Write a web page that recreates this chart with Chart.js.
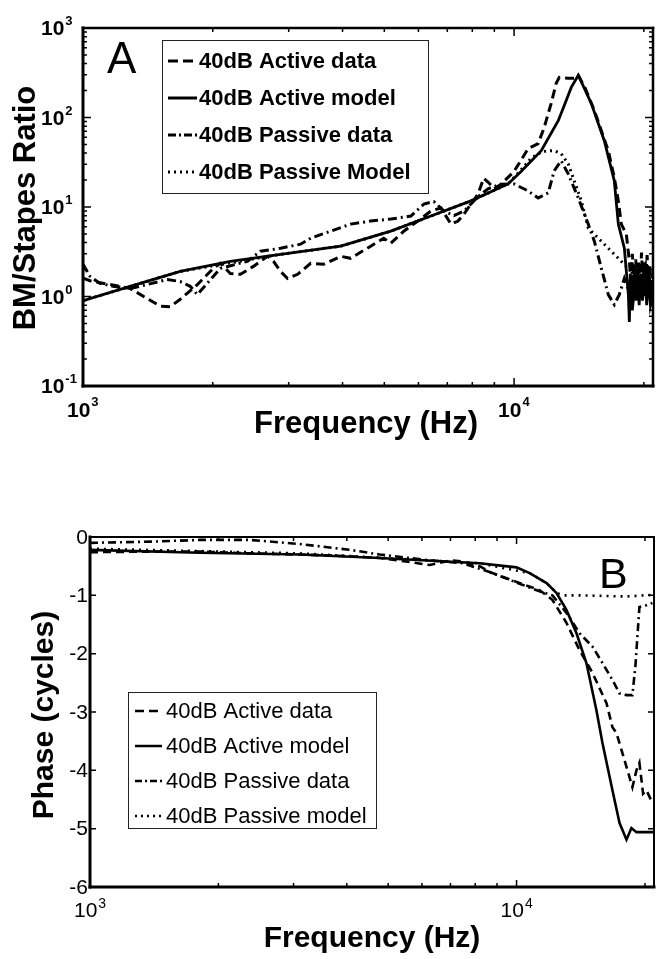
<!DOCTYPE html>
<html>
<head>
<meta charset="utf-8">
<script src="https://cdn.jsdelivr.net/npm/chart.js@4.4.1/dist/chart.umd.min.js"></script>
<style>
  html, body { margin: 0; padding: 0; background: #fff; }
  canvas { display: block; }
</style>
</head>
<body>
<canvas id="panelA" width="658" height="470"></canvas>
<canvas id="panelB" width="658" height="489"></canvas>
<script>
// ---- Panel A: BM/Stapes magnitude ratio ----
const aActiveDataFreq = [1000,1038,1155,1286,1409,1510,1594,1681,1842,2006,2083,2197,2318,2485,2679,2766,2872,2982,3146,3373,3615,3961,4178,4649,4985,5176,5549,5982,6412,6766,7138,7411,7652,7943,8248,8500,8700,9000,9328,10000,10780,11370,11740,12190,12520,12730,13350,13790,14090,14600,15350,16540,17080,17450,17730,18210,18510,18650,18800,19000,19150,19320,19450,19600,19750,19900,20050,20200,20350,20500,20650,20800,21000];
const aActiveData     = [1.6,1.5,1.36,1.23,0.95,0.78,0.77,0.93,1.36,2.06,2.35,1.81,1.77,2.17,2.81,2.47,1.91,1.59,1.77,2.35,2.29,2.81,2.67,3.65,4.48,3.94,5.37,6.96,9.02,9.75,6.44,6.96,8.35,10.8,14.0,21,19,16,18,25,44.9,51,77,144,241,281,274,274,297,215,120,42.6,21.2,11.7,6.44,4.98,2.47,1.5,3.0,1.4,2.6,1.1,2.5,1.2,3.1,1.4,2.4,1.5,2.9,1.3,2.2,1.3,1.8];

const aActiveModelFreq = [1000,1286,1681,2197,2872,3961,5176,6412,7943,9683,10380,11560,12660,13100,13570,14090,15100,16190,17080,17450,18020,18410,18510,18600,18700,18800,18900,19000,19100,19200,19320,19400,19500,19620,19740,19850,19950,20060,20170,20300,20400,20500,20610,20720,20830,21000];
const aActiveModel     = [0.9,1.3,1.91,2.47,2.96,3.65,5.37,7.92,11.7,18.1,25,42.6,92,140,217,297,144,55,19.6,6.44,3.46,1.05,0.52,1.8,1.5,0.7,0.9,2.1,2.0,0.9,1.2,2.2,0.8,1.3,1.8,0.9,1.1,2.0,2.2,0.8,1.0,1.9,1.6,0.8,0.9,1.4];

const aPassiveDataFreq = [1000,1038,1095,1174,1286,1409,1568,1681,1773,1842,2083,2406,2580,2872,3196,3373,3752,4178,4649,5176,5761,6178,6516,6876,7254,7652,8248,8700,9328,10000,10780,11370,12000,12390,12860,13350,14090,14860,15350,15940,16540,17080,17540,18020,18400,18800,19200,19600,20000,20400,20800,21000];
const aPassiveData     = [2.3,1.68,1.4,1.3,1.23,1.36,1.55,1.47,1.3,1.05,2.06,2.47,3.2,3.46,3.84,4.48,5.37,6.44,6.96,7.33,7.92,10.8,11.5,9.0,8.0,9.0,13,16,18,18.1,15.1,12.6,14.4,25.4,32.9,23.5,12.6,6.44,4.15,2.06,1.05,0.81,1.05,1.59,1.2,1.9,1.1,1.7,1.0,1.6,1.2,1.5];

const aPassiveModelFreq = [1000,1681,2872,3961,5176,6412,7943,9683,10380,10950,11560,12000,12390,12860,13350,14320,14860,15680,16810,17730,18510,19500,21000];
const aPassiveModel     = [0.9,1.91,2.96,3.65,5.37,7.92,11.7,18.1,26,35,41,42.6,42.6,39.4,30.4,11.7,5.81,4.48,3.2,2.47,2.0,1.6,1.3];

// ---- Panel B: phase ----
const bActiveDataFreq = [1000,1382,1810,2370,3102,4063,4777,5500,6256,7000,7472,8193,8647,10160,11320,12140,13090,14050,15070,16250,16780,17150,18100,18690,19100,19410,19800,20160,20820];
const bActiveData     = [-0.26,-0.25,-0.25,-0.28,-0.3,-0.33,-0.36,-0.42,-0.48,-0.4,-0.42,-0.5,-0.6,-0.79,-0.91,-1.08,-1.47,-1.94,-2.33,-2.85,-3.26,-3.36,-3.94,-4.29,-4.0,-3.87,-4.4,-4.34,-4.56];

const bActiveModelFreq = [1000,1810,3102,4777,8193,10000,10730,11760,12410,13090,13820,14580,15390,15900,16780,17430,18100,18590,19100,20160,21000];
const bActiveModel     = [-0.22,-0.27,-0.3,-0.36,-0.45,-0.52,-0.62,-0.79,-0.96,-1.25,-1.65,-2.16,-2.97,-3.53,-4.34,-4.9,-5.19,-4.99,-5.06,-5.06,-5.06];

const bPassiveDataFreq = [1000,1382,1810,2370,3102,4063,4777,6256,7472,8647,10160,11320,12140,13090,14050,15070,15900,16780,17430,18100,18690,19000,19410,20160,20820];
const bPassiveData     = [-0.1,-0.08,-0.05,-0.05,-0.12,-0.22,-0.3,-0.4,-0.45,-0.6,-0.8,-0.93,-1.0,-1.3,-1.65,-1.88,-2.16,-2.45,-2.68,-2.71,-2.71,-2.2,-1.2,-1.17,-1.13];

const bPassiveModelFreq = [1000,3102,8193,10730,11760,12410,12900,14000,16000,18000,20000,21000];
const bPassiveModel     = [-0.2,-0.28,-0.45,-0.62,-0.79,-0.96,-1.0,-1.0,-1.01,-1.02,-1.0,-0.99];

// ---- axes ----
const freqMin = 1000, freqMax = 21000;
const freqMajor = [1000, 10000];
const freqMinor = [2000,3000,4000,5000,6000,7000,8000,9000,20000];
const freqLabels = ['3', '4'];               // exponents of 10 under each major tick
const ratioMajor = [0.1, 1, 10, 100, 1000];
const ratioMinor = [0.2,0.3,0.4,0.5,0.6,0.7,0.8,0.9,2,3,4,5,6,7,8,9,20,30,40,50,60,70,80,90,200,300,400,500,600,700,800,900];
const ratioLabels = ['-1', '0', '1', '2', '3'];
const phaseTicks = [0, -1, -2, -3, -4, -5, -6];

const FONT = '"Liberation Sans", Arial, Helvetica, sans-serif';

function pairs(xs, ys) {
  return xs.map((x, i) => ({ x: x, y: ys[i] }));
}

function line(label, xs, ys, dash, width) {
  return {
    label: label,
    data: pairs(xs, ys),
    borderColor: '#000',
    borderWidth: width,
    borderDash: dash,
    pointRadius: 0,
    tension: 0,
    fill: false
  };
}

function drawPow(ctx, exp, x, y, rise, baseFont, supFont) {
  ctx.font = baseFont;
  ctx.textAlign = 'left';
  ctx.textBaseline = 'alphabetic';
  ctx.fillText('10', x, y);
  const w = ctx.measureText('10').width;
  ctx.font = supFont;
  ctx.fillText(exp, x + w + 1, y - rise);
}

function rotated(ctx, text, x, y, font) {
  ctx.save();
  ctx.translate(x, y);
  ctx.rotate(-Math.PI / 2);
  ctx.font = font;
  ctx.textAlign = 'center';
  ctx.textBaseline = 'alphabetic';
  ctx.fillText(text, 0, 0);
  ctx.restore();
}

// frame, inward ticks, labels and legend drawn on top of the plot
function decor(cfg) {
  return {
    id: 'decor',
    afterDraw(chart) {
      const ctx = chart.ctx, area = chart.chartArea;
      const xs = chart.scales.x, ys = chart.scales.y;
      ctx.save();
      ctx.setLineDash([]);
      ctx.strokeStyle = '#000';
      ctx.fillStyle = '#000';

      ctx.lineWidth = 1.5;
      ctx.beginPath();
      cfg.xTicks.forEach(t => {
        const px = xs.getPixelForValue(t[0]);
        ctx.moveTo(px, area.bottom); ctx.lineTo(px, area.bottom - t[1]);
        ctx.moveTo(px, area.top); ctx.lineTo(px, area.top + t[1]);
      });
      cfg.yTicks.forEach(t => {
        const py = ys.getPixelForValue(t[0]);
        ctx.moveTo(area.left, py); ctx.lineTo(area.left + t[1], py);
        ctx.moveTo(area.right, py); ctx.lineTo(area.right - t[1], py);
      });
      ctx.stroke();

      const f = cfg.frame;
      ctx.lineCap = 'square';
      [[f.top, area.left, area.top, area.right, area.top],
       [f.right, area.right, area.top, area.right, area.bottom],
       [f.bottom, area.left, area.bottom, area.right, area.bottom],
       [f.left, area.left, area.top, area.left, area.bottom]].forEach(s => {
        ctx.lineWidth = s[0];
        ctx.beginPath(); ctx.moveTo(s[1], s[2]); ctx.lineTo(s[3], s[4]); ctx.stroke();
      });

      cfg.labels(ctx, xs, ys, area);

      // legend
      const L = cfg.legend;
      ctx.fillStyle = '#fff';
      ctx.fillRect(L.x, L.y, L.w, L.h);
      ctx.strokeStyle = '#222';
      ctx.lineWidth = 1;
      ctx.strokeRect(L.x + 0.5, L.y + 0.5, L.w, L.h);
      ctx.fillStyle = '#000';
      ctx.strokeStyle = '#000';
      ctx.font = L.font;
      ctx.textAlign = 'left';
      ctx.textBaseline = 'middle';
      chart.data.datasets.forEach((ds, i) => {
        const ry = L.rows[i];
        ctx.lineWidth = L.lineWidth;
        ctx.lineCap = 'butt';
        ctx.setLineDash(L.dashes[i]);
        ctx.beginPath(); ctx.moveTo(L.x0, ry); ctx.lineTo(L.x1, ry); ctx.stroke();
        ctx.setLineDash([]);
        ctx.fillText(ds.label, L.textX, ry + 1);
      });

      ctx.restore();
    }
  };
}

const tickMarks = (major, minor, lenMajor, lenMinor) =>
  major.map(v => [v, lenMajor]).concat(minor.map(v => [v, lenMinor]));

// ---- Panel A chart ----
new Chart(document.getElementById('panelA'), {
  type: 'line',
  data: {
    datasets: [
      line('40dB Active data', aActiveDataFreq, aActiveData, [9, 5], 3),
      line('40dB Active model', aActiveModelFreq, aActiveModel, [], 2.8),
      line('40dB Passive data', aPassiveDataFreq, aPassiveData, [9, 4, 2, 4], 3),
      line('40dB Passive Model', aPassiveModelFreq, aPassiveModel, [2, 4], 3)
    ]
  },
  options: {
    responsive: false,
    animation: false,
    devicePixelRatio: 1,
    layout: { padding: { left: 83, top: 28, right: 5, bottom: 84 } },
    scales: {
      x: { type: 'logarithmic', min: freqMin, max: freqMax, display: false },
      y: { type: 'logarithmic', min: 0.1, max: 1000, display: false }
    },
    plugins: { legend: { display: false }, tooltip: { enabled: false } }
  },
  plugins: [decor({
    frame: { top: 2.5, right: 2.5, bottom: 3, left: 3 },
    xTicks: tickMarks(freqMajor, freqMinor, 8, 4),
    yTicks: tickMarks(ratioMajor, ratioMinor, 8, 4),
    labels(ctx, xs, ys, area) {
      const base = 'bold 21px ' + FONT, sup = 'bold 13px ' + FONT;
      ratioMajor.forEach((v, i) => {
        const py = ys.getPixelForValue(v);
        drawPow(ctx, ratioLabels[i], 41, py + 7, 10, base, sup);
      });
      freqMajor.forEach((v, i) => {
        const px = xs.getPixelForValue(v);
        drawPow(ctx, freqLabels[i], px - 16, 417, 11, base, sup);
      });
      ctx.font = 'bold 31px ' + FONT;
      ctx.textAlign = 'center';
      ctx.fillText('Frequency (Hz)', 366, 433);
      rotated(ctx, 'BM/Stapes Ratio', 35, 208, 'bold 31px ' + FONT);
      ctx.font = '44px ' + FONT;
      ctx.textAlign = 'left';
      ctx.fillText('A', 107, 73);
    },
    legend: {
      x: 162, y: 40, w: 266, h: 153,
      rows: [61, 98, 135, 172],
      x0: 168, x1: 197, textX: 199,
      lineWidth: 3,
      dashes: [[10, 5], [], [8, 3, 2, 3], [2, 4]],
      font: 'bold 22px ' + FONT
    }
  })]
});

// ---- Panel B chart ----
new Chart(document.getElementById('panelB'), {
  type: 'line',
  data: {
    datasets: [
      line('40dB Active data', bActiveDataFreq, bActiveData, [8, 5], 2.6),
      line('40dB Active model', bActiveModelFreq, bActiveModel, [], 2.6),
      line('40dB Passive data', bPassiveDataFreq, bPassiveData, [8, 4, 2, 4], 2.6),
      line('40dB Passive model', bPassiveModelFreq, bPassiveModel, [2, 5], 2.6)
    ]
  },
  options: {
    responsive: false,
    animation: false,
    devicePixelRatio: 1,
    layout: { padding: { left: 90, top: 67, right: 4, bottom: 72 } },
    scales: {
      x: { type: 'logarithmic', min: freqMin, max: freqMax, display: false },
      y: { type: 'linear', min: -6, max: 0, display: false }
    },
    plugins: { legend: { display: false }, tooltip: { enabled: false } }
  },
  plugins: [decor({
    frame: { top: 2, right: 2, bottom: 3, left: 3 },
    xTicks: tickMarks(freqMajor, freqMinor, 7, 4),
    yTicks: tickMarks(phaseTicks, [], 6, 0),
    labels(ctx, xs, ys, area) {
      const base = '21px ' + FONT, sup = '14px ' + FONT;
      ctx.font = base;
      ctx.textAlign = 'right';
      ctx.textBaseline = 'middle';
      phaseTicks.forEach(v => {
        ctx.fillText(String(v), 88, ys.getPixelForValue(v) + 1);
      });
      freqMajor.forEach((v, i) => {
        const px = xs.getPixelForValue(v);
        drawPow(ctx, freqLabels[i], px - 16, 447, 9, base, sup);
      });
      ctx.font = 'bold 30px ' + FONT;
      ctx.textAlign = 'center';
      ctx.fillText('Frequency (Hz)', 372, 477);
      rotated(ctx, 'Phase (cycles)', 53, 245, 'bold 30px ' + FONT);
      ctx.font = '43px ' + FONT;
      ctx.textAlign = 'left';
      ctx.fillText('B', 599, 118);
    },
    legend: {
      x: 128, y: 222, w: 248, h: 136,
      rows: [241, 276, 311, 346],
      x0: 135, x1: 162, textX: 166,
      lineWidth: 2.5,
      dashes: [[9, 5], [], [7, 3, 2, 3], [2, 4]],
      font: '22px ' + FONT
    }
  })]
});
</script>
</body>
</html>
